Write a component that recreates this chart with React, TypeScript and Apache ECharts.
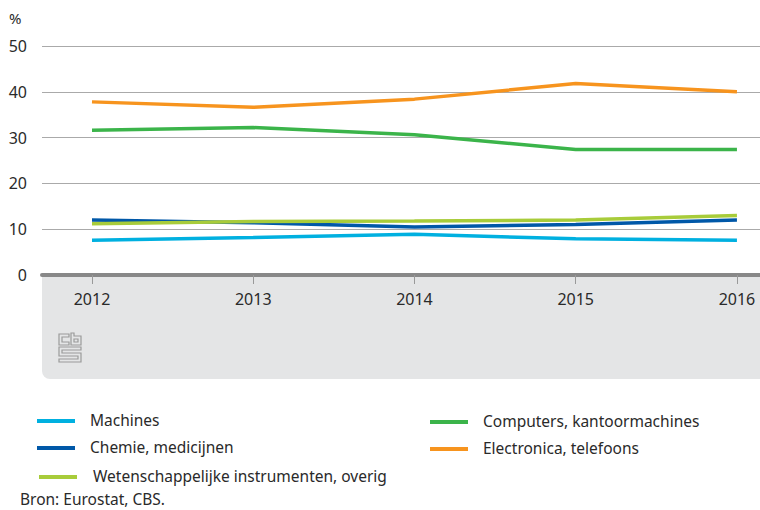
import React, { useEffect, useRef } from "react";
import * as echarts from "echarts";

const years = [2012, 2013, 2014, 2015, 2016];
const machines = [7.6, 8.2, 8.9, 7.9, 7.6];
const chemie = [12.0, 11.4, 10.5, 11.0, 12.0];
const wetenschap = [11.2, 11.7, 11.8, 12.0, 13.0];
const computers = [31.6, 32.2, 30.6, 27.4, 27.4];
const electronica = [37.8, 36.6, 38.4, 41.8, 40.0];
const yTicks = [0, 10, 20, 30, 40, 50];

const seriesDefs = [
  { name: "Machines", data: machines, color: "#00b0e0" },
  { name: "Chemie, medicijnen", data: chemie, color: "#0058a8" },
  { name: "Wetenschappelijke instrumenten, overig", data: wetenschap, color: "#a8cc3a" },
  { name: "Computers, kantoormachines", data: computers, color: "#3bb44a" },
  { name: "Electronica, telefoons", data: electronica, color: "#f7941e" },
];

const FONT = "'Noto Sans', sans-serif";

export default function App() {
  const ref = useRef<HTMLDivElement>(null);
  useEffect(() => {
    if (!ref.current) return;
    const chart = echarts.init(ref.current, undefined, { renderer: "svg" });
    const legendPos = [
      { x: 37, y: 420, tx: 90 },
      { x: 37, y: 447, tx: 90 },
      { x: 39, y: 476, tx: 93 },
      { x: 430, y: 421, tx: 483 },
      { x: 430, y: 448, tx: 483 },
    ];
    const legendGraphics: any[] = [];
    seriesDefs.forEach((s, i) => {
      const p = legendPos[i];
      legendGraphics.push({
        type: "line",
        shape: { x1: p.x, y1: p.y + 1, x2: p.x + 38, y2: p.y + 1 },
        style: { stroke: s.color, lineWidth: 4 },
      });
      legendGraphics.push({
        type: "text",
        x: p.tx,
        y: p.y,
        style: { text: s.name, fill: "#2a2a2a", font: `15.5px ${FONT}`, textVerticalAlign: "middle" },
      });
    });
    const sw = 1.2;
    const logoStroke = "#9a9a9a";
    chart.setOption({
      animation: false,
      grid: { left: 42, right: 0, top: 46, height: 229 },
      xAxis: {
        type: "value",
        min: 2011.69,
        max: 2016.143,
        axisLine: { show: true, onZero: true, lineStyle: { color: "#888", width: 4 } },
        axisTick: { show: true, customValues: years, length: 9, lineStyle: { color: "#999", width: 1 } },
        axisLabel: { customValues: years, fontSize: 16, color: "#2a2a2a", fontFamily: FONT, margin: 16, formatter: (v: number) => String(v) },
        splitLine: { show: false },
      },
      yAxis: {
        type: "value",
        min: 0,
        max: 50,
        interval: 10,
        axisLine: { show: false },
        axisTick: { show: false },
        axisLabel: { fontSize: 16, color: "#2a2a2a", fontFamily: FONT, margin: 15, customValues: yTicks },
        splitLine: { lineStyle: { color: "#aaa", width: 1.2 } },
      },
      series: seriesDefs.map((s) => ({
        type: "line",
        name: s.name,
        data: years.map((y, i) => [y, s.data[i]]),
        symbol: "none",
        lineStyle: { color: s.color, width: 3.5 },
        itemStyle: { color: s.color },
        z: 3,
      })),
      graphic: [
        {
          type: "rect",
          z: -10,
          shape: { x: 42, y: 275, width: 718, height: 104, r: [0, 0, 0, 8] },
          style: { fill: "#e4e5e6" },
        },
        {
          type: "text",
          x: 9,
          y: 18,
          style: { text: "%", fill: "#2a2a2a", font: `15px ${FONT}`, textVerticalAlign: "middle" },
        },
        {
          type: "group",
          x: 58,
          y: 333,
          children: [
            {
              type: "polygon",
              shape: { points: [[11, 1], [1, 1], [1, 12], [11, 12], [11, 9], [4, 9], [4, 4], [11, 4]] },
              style: { fill: "none", stroke: logoStroke, lineWidth: sw },
            },
            {
              type: "polygon",
              shape: { points: [[13, 0], [16, 0], [16, 3], [23, 3], [23, 12], [13, 12]] },
              style: { fill: "none", stroke: logoStroke, lineWidth: sw },
            },
            {
              type: "rect",
              shape: { x: 16, y: 6, width: 4, height: 3 },
              style: { fill: "none", stroke: logoStroke, lineWidth: sw },
            },
            {
              type: "polygon",
              shape: {
                points: [[1, 14], [23, 14], [23, 17], [4, 17], [4, 20], [23, 20], [23, 29], [1, 29], [1, 26], [20, 26], [20, 23], [1, 23]],
              },
              style: { fill: "none", stroke: logoStroke, lineWidth: sw },
            },
          ],
        },
        ...legendGraphics,
        {
          type: "text",
          x: 20,
          y: 499,
          style: { text: "Bron: Eurostat, CBS.", fill: "#2a2a2a", font: `15.5px ${FONT}`, textVerticalAlign: "middle" },
        },
      ],
    });
    return () => chart.dispose();
  }, []);
  return (
    <div
      ref={ref}
      style={{ position: "fixed", left: 0, top: 0, width: 760, height: 510, background: "#fff" }}
    />
  );
}
